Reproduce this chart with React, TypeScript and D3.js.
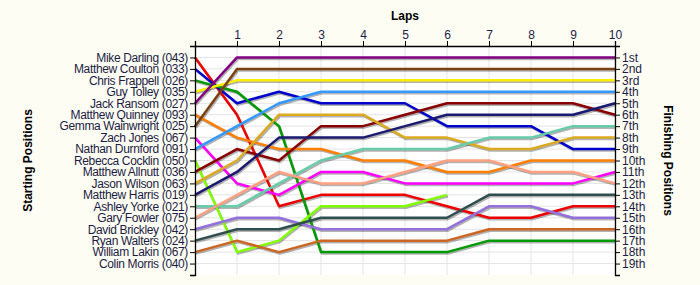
import React, { useEffect, useRef } from "react";
import * as d3 from "d3";

const drivers = [
  "Mike Darling (043)", "Matthew Coulton (033)", "Chris Frappell (026)", "Guy Tolley (035)",
  "Jack Ransom (027)", "Matthew Quinney (093)", "Gemma Wainwright (025)", "Zach Jones (067)",
  "Nathan Durnford (091)", "Rebecca Cocklin (050)", "Matthew Allnutt (036)", "Jason Wilson (063)",
  "Matthew Harris (019)", "Ashley Yorke (021)", "Gary Fowler (075)", "David Brickley (042)",
  "Ryan Walters (024)", "William Lakin (067)", "Colin Morris (040)",
];

const finishLabels = [
  "1st", "2nd", "3rd", "4th", "5th", "6th", "7th", "8th", "9th", "10th",
  "11th", "12th", "13th", "14th", "15th", "16th", "17th", "18th", "19th",
];

const lapLabels = ["1", "2", "3", "4", "5", "6", "7", "8", "9", "10"];

const colors = [
  "#ee0000", "#0000cc", "#009900", "#ffee00", "#800080", "#ff8000", "#7a4010", "#ff00ff",
  "#3399ff", "#80ff00", "#880000", "#dcaa20", "#1a1a70", "#66ccaa", "#ffa080", "#9370db",
  "#2f4f4f", "#cc6622", "#000000",
];

// positions at laps 0..10 (null = not running)
const positions: (number | null)[][] = [
  [1, 6, 14, 13, 13, 13, 14, 15, 15, 14, 14],
  [2, 5, 4, 5, 5, 5, 7, 7, 7, 9, 9],
  [3, 4, 7, 18, 18, 18, 18, 17, 17, 17, 17],
  [4, 3, 3, 3, 3, 3, 3, 3, 3, 3, 3],
  [5, 1, 1, 1, 1, 1, 1, 1, 1, 1, 1],
  [6, 8, 9, 9, 10, 10, 11, 11, 10, 10, 10],
  [7, 2, 2, 2, 2, 2, 2, 2, 2, 2, 2],
  [8, 12, 13, 11, 11, 12, 12, 12, 12, 12, 11],
  [9, 7, 5, 4, 4, 4, 4, 4, 4, 4, 4],
  [10, 18, 17, 14, 14, 14, 13, null, null, null, null],
  [11, 9, 10, 7, 7, 6, 5, 5, 5, 5, 6],
  [12, 10, 6, 6, 6, 8, 8, 9, 9, 8, 8],
  [13, 11, 8, 8, 8, 7, 6, 6, 6, 6, 5],
  [14, 14, 12, 10, 9, 9, 9, 8, 8, 7, 7],
  [15, 13, 11, 12, 12, 11, 10, 10, 11, 11, 12],
  [16, 15, 15, 16, 16, 16, 16, 14, 14, 15, 15],
  [17, 16, 16, 15, 15, 15, 15, 13, 13, 13, 13],
  [18, 17, 18, 17, 17, 17, 17, 16, 16, 16, 16],
  [],
];

export default function App() {
  const ref = useRef<SVGSVGElement>(null);

  useEffect(() => {
    const svg = d3.select(ref.current);
    svg.selectAll("*").remove();
    const W = 700, H = 285;
    const left = 195, right = 615, top = 46, bottom = 275;
    const font = "'Liberation Sans', Arial, sans-serif";
    const textColor = "#1c1c44";

    svg.append("rect").attr("width", W).attr("height", H).attr("fill", "#fdfdf3");
    svg.append("rect").attr("x", left).attr("y", top).attr("width", right - left)
      .attr("height", bottom - top).attr("fill", "#ffffff");

    const x = d3.scaleLinear().domain([0, 10]).range([left, right]);
    const y = d3.scaleLinear().domain([0, 20]).range([top, bottom]);

    const g = svg.append("g");
    // grid
    for (let i = 1; i <= 10; i++) {
      g.append("line").attr("x1", x(i)).attr("x2", x(i)).attr("y1", top).attr("y2", bottom)
        .attr("stroke", "#e4e4e4").attr("stroke-width", 1);
    }
    for (let i = 1; i < 20; i++) {
      g.append("line").attr("x1", left).attr("x2", right).attr("y1", y(i)).attr("y2", y(i))
        .attr("stroke", "#e4e4e4").attr("stroke-width", 1);
    }

    const lineGen = d3.line<[number, number | null]>()
      .defined((d) => d[1] !== null)
      .x((d) => x(d[0]))
      .y((d) => y(d[1] as number));

    // shadows
    positions.forEach((p) => {
      if (!p.length) return;
      const pts = p.map((v, i) => [i, v] as [number, number | null]);
      g.append("path").attr("d", lineGen(pts) as string)
        .attr("transform", "translate(1,1.5)")
        .attr("fill", "none").attr("stroke", "#000").attr("stroke-opacity", 0.3)
        .attr("stroke-width", 2.5).attr("stroke-linejoin", "round");
    });
    positions.forEach((p, k) => {
      if (!p.length) return;
      const pts = p.map((v, i) => [i, v] as [number, number | null]);
      g.append("path").attr("d", lineGen(pts) as string)
        .attr("fill", "none").attr("stroke", colors[k])
        .attr("stroke-width", 2.5).attr("stroke-linejoin", "round");
    });

    // axes
    const topAxis = d3.axisTop(x).tickValues(d3.range(0, 11)).tickSize(5)
      .tickFormat((d) => (+d === 0 ? "" : lapLabels[+d - 1]));
    const ta = svg.append("g").attr("transform", `translate(0,${top})`).call(topAxis);
    const leftAxis = d3.axisLeft(y).tickValues(d3.range(0, 21)).tickSize(5)
      .tickFormat((d) => (+d >= 1 && +d <= 19 ? drivers[+d - 1] : ""));
    const la = svg.append("g").attr("transform", `translate(${left},0)`).call(leftAxis);
    const rightAxis = d3.axisRight(y).tickValues(d3.range(0, 21)).tickSize(5)
      .tickFormat((d) => (+d >= 1 && +d <= 19 ? finishLabels[+d - 1] : ""));
    const ra = svg.append("g").attr("transform", `translate(${right},0)`).call(rightAxis);

    [ta, la, ra].forEach((a) => {
      a.select(".domain").attr("stroke", "#000").attr("stroke-width", 1.3);
      a.selectAll(".tick line").attr("stroke", "#000");
      a.selectAll("text").attr("font-family", font).attr("font-size", 12)
        .attr("fill", textColor);
    });
    la.selectAll("text").attr("x", -7).attr("letter-spacing", -0.35);
    ra.selectAll("text").attr("x", 7);
    ta.selectAll("text").attr("y", -7);

    svg.append("text").attr("x", 405).attr("y", 20).attr("text-anchor", "middle")
      .attr("font-family", font).attr("font-size", 12).attr("font-weight", "bold")
      .attr("fill", "#000").text("Laps");
    svg.append("text").attr("transform", `translate(32,${(top + bottom) / 2}) rotate(-90)`)
      .attr("text-anchor", "middle").attr("font-family", font).attr("font-size", 12)
      .attr("font-weight", "bold").attr("fill", "#000").text("Starting Positions");
    svg.append("text").attr("transform", `translate(664,${(top + bottom) / 2}) rotate(90)`)
      .attr("text-anchor", "middle").attr("font-family", font).attr("font-size", 12)
      .attr("font-weight", "bold").attr("fill", "#000").text("Finishing Positions");
  }, []);

  return (
    <svg ref={ref} width={700} height={285}
      style={{ position: "absolute", left: 0, top: 0, display: "block" }} />
  );
}
